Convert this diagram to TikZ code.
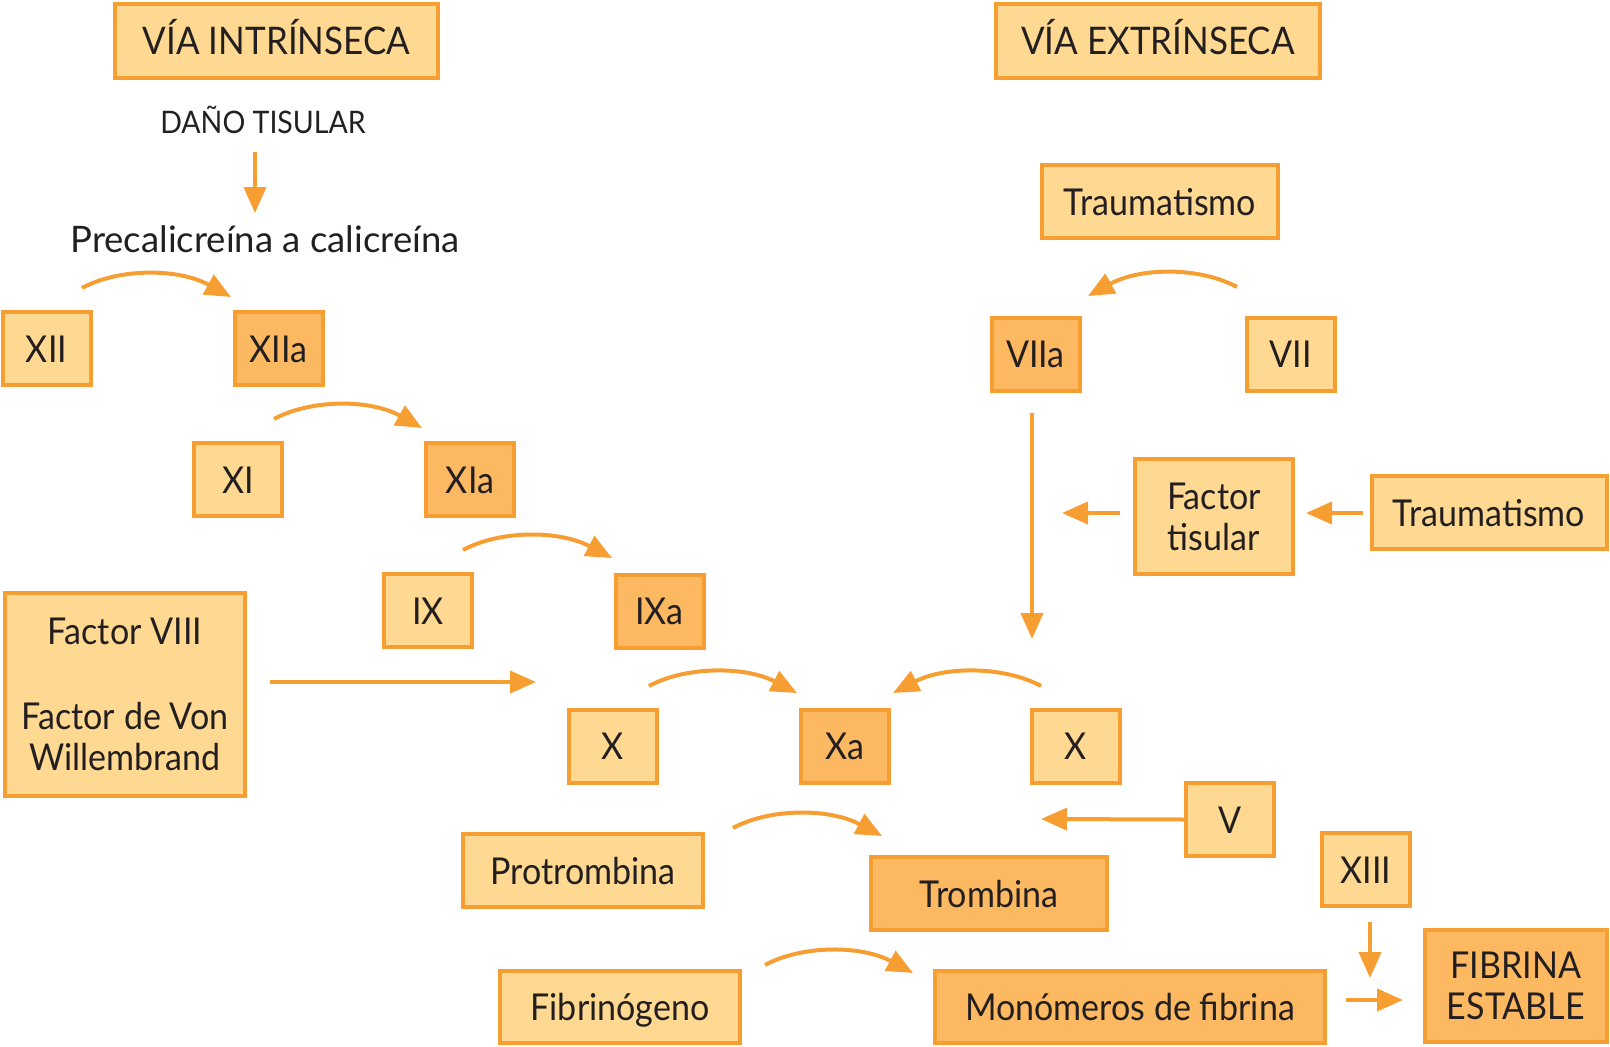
\documentclass[tikz,border=0pt]{standalone}
\usepackage{fontspec}
\setmainfont{Lato}[FakeStretch=0.92]
\newfontfamily\widefam{Lato}
\usetikzlibrary{arrows.meta,calc}
\definecolor{lightbox}{HTML}{FFD991}
\definecolor{darkbox}{HTML}{FDB962}
\definecolor{edgec}{HTML}{F79E33}
\definecolor{ink}{HTML}{231F20}
\newcommand\bodyfont{\fontsize{37}{41}\selectfont}
\newcommand\headfont{\fontsize{38}{42}\selectfont}
\newcommand\danofont{\fontsize{31}{34}\selectfont}
\newcommand\precfont{\widefam\fontsize{36.5}{40}\selectfont}
\tikzset{
  box/.style={draw=edgec, line width=4pt, fill=lightbox, inner sep=0pt, text=ink,
    font=\bodyfont, text height=27pt, text depth=0pt},
  dbox/.style={box, fill=darkbox},
  sq/.style={minimum width=88pt, minimum height=73pt},
  mbox/.style={draw=edgec, line width=4pt, fill=lightbox, inner sep=0pt, text=ink,
    font=\bodyfont, align=center},
  arr/.style={draw=edgec, line width=4pt, -{Triangle[length=26pt,width=22pt]}},
  plain/.style={text=ink, inner sep=0pt}
}
\begin{document}
\begin{tikzpicture}[x=1pt,y=-1pt]
\useasboundingbox (0,0) rectangle (1610,1047);

% headers
\node[box, font=\headfont, text height=27.5pt, minimum width=323pt, minimum height=74pt] (vi) at (276.5,41) {VÍA INTRÍNSECA};
\node[box, font=\headfont, text height=27.5pt, minimum width=324pt, minimum height=74pt] (ve) at (1158,41) {VÍA EXTRÍNSECA};

% plain texts
\node[plain, font=\danofont, anchor=base] (dano) at (263,133) {DAÑO TISULAR};
\node[plain, font=\precfont, anchor=base] (prec) at (265,252) {Precalicreína a calicreína};

% small boxes
\node[box, sq] (xii) at (46.5,348.5) {XII};
\node[dbox, sq] (xiia) at (278.5,348.5) {XIIa};
\node[box, sq] (xi) at (238,479.5) {XI};
\node[dbox, sq] (xia) at (470,479.5) {XIa};
\node[box, sq] (ix) at (428,610.5) {IX};
\node[dbox, sq] (ixa) at (659.5,611) {IXa};
\node[box, sq] (xl) at (613,746) {X};
\node[dbox, sq] (xa) at (845,746) {Xa};
\node[box, sq] (xr) at (1076,746) {X};
\node[dbox, sq] (viia) at (1035.5,354) {VIIa};
\node[box, sq] (vii) at (1290.5,354) {VII};
\node[box, sq] (v) at (1230,819.5) {V};
\node[box, sq] (xiii) at (1366,869.5) {XIII};

% wide boxes
\node[box, minimum width=236pt, minimum height=73pt] (tra) at (1160,201.5) {Traumatismo};
\node[box, minimum width=235pt, minimum height=73pt] (trb) at (1489,512.5) {Traumatismo};
\node[box, minimum width=240pt, minimum height=73pt] (prot) at (583,870.5) {Protrombina};
\node[dbox, minimum width=236pt, minimum height=73pt] (trom) at (989,893.5) {Trombina};
\node[box, minimum width=240pt, minimum height=72pt] (fibg) at (620,1007) {Fibrinógeno};
\node[dbox, minimum width=390pt, minimum height=72pt] (mono) at (1130,1007) {Monómeros de fibrina};

% multi-line boxes
\node[mbox, minimum width=158pt, minimum height=115pt] (ftis) at (1214,516.5) {Factor\\tisular};
\node[mbox, minimum width=240pt, minimum height=203pt] (f8) at (125,694.5) {Factor VIII\\[44pt]Factor de Von\\Willembrand};
\node[mbox, fill=darkbox, minimum width=182pt, minimum height=112pt] (fest) at (1516,986) {FIBRINA\\ESTABLE};

% curved arrow end points
\coordinate (c1s) at (82,288);   \coordinate (c1t) at (231,297);
\coordinate (c2s) at (274,419);  \coordinate (c2t) at (422,428);
\coordinate (c3s) at (463,550);  \coordinate (c3t) at (612,558);
\coordinate (c4s) at (649,686);  \coordinate (c4t) at (797,693);
\coordinate (c5s) at (1041,686); \coordinate (c5t) at (893,693);
\coordinate (c6s) at (1237,287); \coordinate (c6t) at (1088,296);
\coordinate (c7s) at (733,828);  \coordinate (c7t) at (882,836);
\coordinate (c8s) at (765,965);  \coordinate (c8t) at (913,973);

\foreach \c in {c1,c2,c3,c4,c7,c8}{
  \draw[arr] (\c s) .. controls ($(\c s)+(37,-20)$) and ($(\c s)+(96,-20)$) .. (\c t);
}
\foreach \c in {c5,c6}{
  \draw[arr] (\c s) .. controls ($(\c s)+(-37,-20)$) and ($(\c s)+(-96,-20)$) .. (\c t);
}

% straight arrows
\coordinate (d1) at (255,152);   \coordinate (d2) at (255,213);
\coordinate (f8a) at (270,682);  \coordinate (f8b) at (536,682);
\coordinate (v7a) at (1032,413); \coordinate (v7b) at (1032,639);
\coordinate (ft1) at (1120,513); \coordinate (ft2) at (1062,513);
\coordinate (tb1) at (1363,513); \coordinate (tb2) at (1306,513);
\coordinate (vtip) at (1041,819);
\coordinate (x13a) at (1370,922); \coordinate (x13b) at (1370,978);
\coordinate (mo1) at (1346,1000); \coordinate (mo2) at (1403,1000);

\draw[arr] (d1) -- (d2);
\draw[arr] (f8a) -- (f8b);
\draw[arr] (v7a) -- (v7b);
\draw[arr] (ft1) -- (ft2);
\draw[arr] (tb1) -- (tb2);
\draw[arr] (v.west) -- (vtip);
\draw[arr] (x13a) -- (x13b);
\draw[arr] (mo1) -- (mo2);
\end{tikzpicture}
\end{document}
